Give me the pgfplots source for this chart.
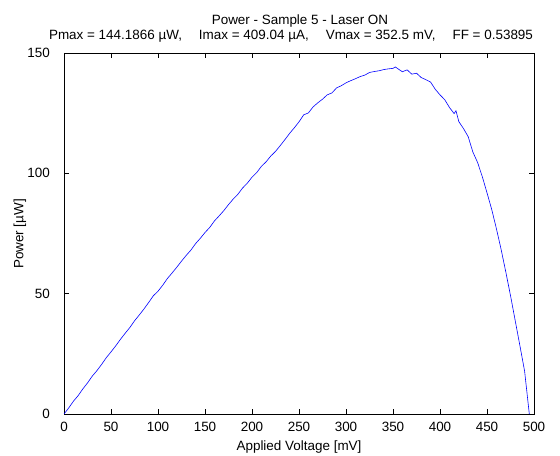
\documentclass[border=0pt]{standalone}
\usepackage{fontspec}
\setmainfont{Liberation Sans}
\usepackage{pgfplots}
\pgfplotsset{compat=1.18}
\begin{document}
\begin{tikzpicture}[x=1bp,y=1bp]
\path[use as bounding box] (0,0) rectangle (560,456);
\begin{axis}[
  at={(64bp,42bp)}, anchor=south west,
  scale only axis, width=470bp, height=361bp,
  xmin=0, xmax=500, ymin=0, ymax=150,
  xtick={0,50,...,500}, ytick={0,50,100,150},
  tick align=inside, major tick length=5bp,
  xtick pos=both, ytick pos=both,
  axis line style={black, line width=0.6bp},
  every tick/.style={black, line width=0.6bp},
  tick label style={font=\fontsize{13.5}{15}\selectfont, inner sep=0pt},
  /pgf/number format/assume math mode=true,
  xticklabel style={anchor=base, yshift=-18bp},
  yticklabel style={anchor=east, xshift=-14bp},
  clip=false,
]
\addplot[color=blue, line width=0.6bp] coordinates {
(0,0) (5,2.5) (10,5.3) (15,7.6) (20,10.4) (25,12.9) (30,15.7) (35,18.0) (40,20.6) (45,23.4)
(50,25.8) (55,28.3) (60,31.0) (65,33.5) (70,35.9) (75,38.7) (80,41.1) (85,43.6) (90,46.3) (95,49.1)
(100,51.0) (105,53.5) (110,56.3) (115,58.6) (120,61.0) (125,63.5) (130,65.9) (135,68.1) (140,70.8) (145,73.0)
(150,75.4) (155,77.5) (160,80.2) (165,82.3) (170,84.5) (175,87.0) (180,89.3) (185,91.3) (190,93.9) (195,95.9)
(200,98.4) (205,100.3) (210,102.9) (215,104.8) (220,107.2) (225,109.1) (230,111.5) (235,114.0) (240,116.6) (245,118.9)
(250,121.4) (255,124.3) (260,125.1) (265,127.6) (270,129.3) (275,130.8) (280,132.6) (285,133.4) (290,135.5) (295,136.4)
(300,137.6) (305,138.5) (310,139.3) (315,140.2) (320,140.8) (325,141.9) (330,142.3) (335,142.6) (340,143.1) (345,143.4)
(350,143.6) (352.5,144.19) (355,143.5) (360,142.2) (365,143.0) (370,141.2) (375,141.6) (380,139.8) (385,138.9) (390,137.9)
(395,134.9) (400,132.6) (405,130.6) (410,127.4) (415,124.8) (417,126.0) (420,121.5) (425,118.6) (430,115.2) (435,108.8)
(440,104.5) (445,98.6) (450,91.9) (455,85.0) (460,77.0) (465,68.4) (470,59.0) (475,49.2) (480,38.8) (485,28.4)
(490,17.8) (495,0)
};
\end{axis}
\node[anchor=base, font=\fontsize{13.5}{15}\selectfont] at (300,431) {Power - Sample 5 - Laser ON};
\node[anchor=base, font=\fontsize{13.5}{15}\selectfont] at (291,416) {Pmax = 144.1866 µW,\hspace{17bp}Imax = 409.04 µA,\hspace{17bp}Vmax = 352.5 mV,\hspace{17bp}FF = 0.53895};
\node[anchor=base, font=\fontsize{13.5}{15}\selectfont] at (299,5) {Applied Voltage [mV]};
\node[anchor=center, rotate=90, font=\fontsize{13.5}{15}\selectfont] at (20,222) {Power [µW]};
\end{tikzpicture}
\end{document}
